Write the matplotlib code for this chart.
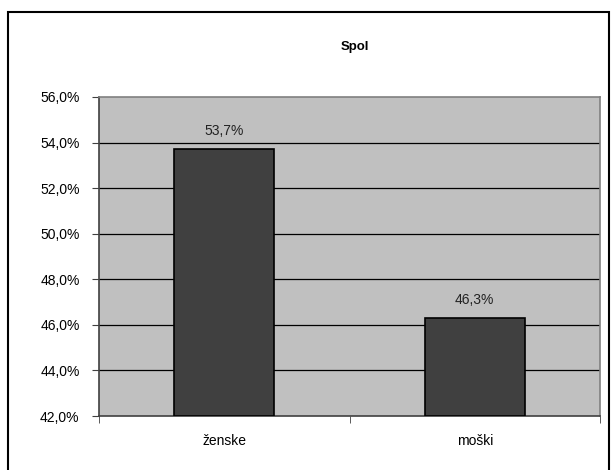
import matplotlib.pyplot as plt
from matplotlib.patches import Rectangle
from matplotlib.ticker import FixedLocator, FuncFormatter

plt.rcParams['font.family'] = ['Liberation Sans', 'DejaVu Sans']

# data
categories = ['ženske', 'moški']
values = [53.7, 46.3]
title = 'Spol'
yticks = [42, 44, 46, 48, 50, 52, 54, 56]

fig = plt.figure(figsize=(6.13, 4.70), dpi=100)
# outer chart border
fig.patches.append(Rectangle((8 / 613, -0.05), 601 / 613, (470 - 12) / 470 + 0.05,
                             transform=fig.transFigure, fill=False,
                             edgecolor='black', linewidth=1.5))

ax = fig.add_axes([99 / 613, 1 - 416 / 470, 501 / 613, 319 / 470])
ax.set_facecolor('#C0C0C0')

x = list(range(len(categories)))
ax.bar(x, [v - 42 for v in values], bottom=42, width=0.4,
       color='#404040', edgecolor='black', linewidth=1.2, zorder=3)

for xi, v in zip(x, values):
    ax.text(xi, v + 0.5, f'{v:.1f}%'.replace('.', ','), ha='center', va='bottom',
            fontsize=10, color='#222222')

ax.set_xlim(-0.5, len(categories) - 0.5)
ax.set_ylim(42, 56)
ax.yaxis.set_major_locator(FixedLocator(yticks))
ax.yaxis.set_major_formatter(FuncFormatter(lambda v, p: f'{v:.1f}%'.replace('.', ',')))
for yv in yticks[1:-1]:
    ax.axhline(yv, color='black', linewidth=0.9, zorder=1)

ax.set_xticks(x)
ax.set_xticklabels(categories, fontsize=10)
ax.xaxis.set_minor_locator(FixedLocator([-0.5, 0.5, 1.5]))
ax.tick_params(axis='x', which='major', length=0, pad=13)
ax.tick_params(axis='x', which='minor', length=5, color='#404040')
ax.tick_params(axis='y', length=5, labelsize=10, color='#404040', pad=9)

for s in ax.spines.values():
    s.set_color('#808080')
    s.set_linewidth(1.2)
ax.spines['left'].set_color('#404040')
ax.spines['bottom'].set_color('#404040')

fig.text(355 / 613, 1 - 47 / 470, title, ha='center', va='center',
         fontsize=9.5, fontweight='bold')

fig.savefig('out.png', dpi=100)
